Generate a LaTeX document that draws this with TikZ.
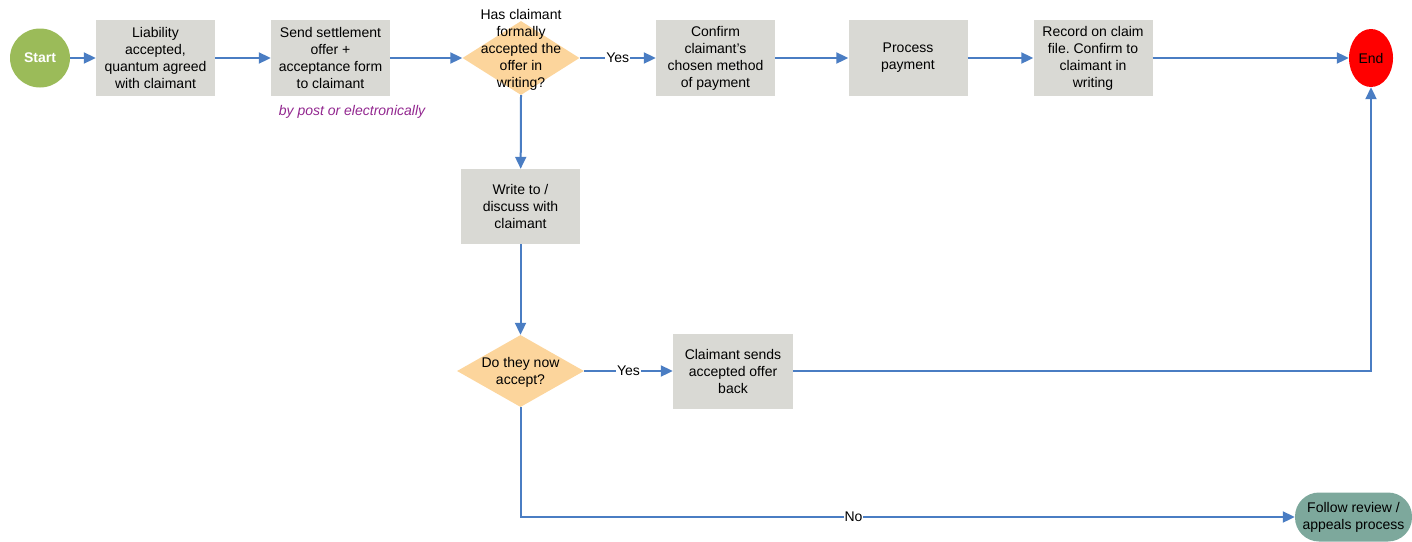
\documentclass[tikz,border=0pt]{standalone}
\usepackage{fontspec}
\setmainfont{Liberation Sans}
\usetikzlibrary{arrows.meta,shapes.geometric}
\definecolor{flowblue}{HTML}{4A7DC3}
\definecolor{boxgray}{HTML}{D9D9D4}
\definecolor{decorange}{HTML}{FCD59C}
\definecolor{startgreen}{HTML}{9BBB59}
\definecolor{endred}{HTML}{FF0000}
\definecolor{reviewteal}{HTML}{7DA89C}
\definecolor{notepurple}{HTML}{92278F}
\frenchspacing
\begin{document}
\begin{tikzpicture}[x=1pt,y=-1pt,
  font=\fontsize{14}{17}\selectfont,
  stepbox/.style={draw=none,fill=boxgray,minimum width=119pt,minimum height=76pt,align=center,inner sep=1pt},
  decision/.style={shape=diamond,draw=none,fill=decorange,inner sep=0pt,minimum width=#1,minimum height=74pt},
  flow/.style={draw=flowblue,line width=2pt,-{Triangle[length=12pt,width=11pt]}},
  tag/.style={fill=white,inner sep=1pt,text=black}]
\useasboundingbox (0,0) rectangle (1412,541);

% terminals
\node[ellipse,fill=startgreen,minimum width=60pt,minimum height=59pt,inner sep=0pt,text=white,font=\fontsize{14}{17}\selectfont\bfseries] (start) at (40,58) {Start};
\node[ellipse,fill=endred,minimum width=44pt,minimum height=58pt,inner sep=0pt] (end) at (1371,58) {End};
\node[rounded corners=24pt,fill=reviewteal,minimum width=117pt,minimum height=49pt,align=center,inner sep=1pt] (review) at (1353.5,517) {Follow review /\\appeals process};

% top row
\node[stepbox] (liab) at (155.5,58) {Liability\\accepted,\\quantum agreed\\with claimant};
\node[stepbox] (send) at (330.5,58) {Send settlement\\offer +\\acceptance form\\to claimant};
\node[decision=117pt] (d1) at (521,58) {};
\node[align=center,inner sep=0pt] (d1t) at (521,50) {Has claimant\\formally\\accepted the\\offer in\\writing?};
\node[stepbox] (conf) at (715.5,58) {Confirm\\claimant's\\chosen method\\of payment};
\node[stepbox] (proc) at (908,58) {Process\\payment};
\node[stepbox] (rec) at (1093,58) {Record on claim\\file. Confirm to\\claimant in\\writing};
\node[text=notepurple,font=\fontsize{14}{17}\selectfont\itshape] (note) at (352,112) {by post or electronically};

% lower branch
\node[stepbox,minimum height=75pt] (write) at (520.5,206.5) {Write to /\\discuss with\\claimant};
\node[decision=127pt,minimum height=72pt] (d2) at (520.5,371) {};
\node[align=center,inner sep=0pt] (d2t) at (520.5,372) {Do they now\\accept?};
\node[stepbox,minimum width=120pt,minimum height=75pt] (sends) at (733,371) {Claimant sends\\accepted offer\\back};

% connectors
\draw[flow] (start) -- (liab);
\draw[flow] (liab) -- (send);
\draw[flow] (send) -- (d1.west);
\draw[flow] (d1.east) -- node[tag,pos=0.5] {Yes} (conf);
\draw[flow] (conf) -- (proc);
\draw[flow] (proc) -- (rec);
\draw[flow] (rec) -- (end);
\draw[flow] (d1.south) -- (write);
\draw[flow] (write) -- (d2.north);
\draw[flow] (d2.east) -- node[tag,pos=0.5] {Yes} (sends);
\draw[flow] (sends.east) -| (end.south);
\draw[flow] (d2.south) |- node[tag,pos=0.715] {No} (review.west);
\end{tikzpicture}
\end{document}
